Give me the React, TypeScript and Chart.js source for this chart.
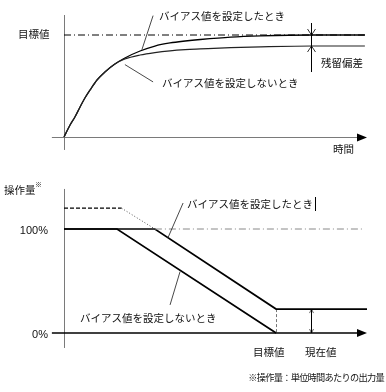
import React, { useEffect, useRef } from "react";
import { Chart, registerables } from "chart.js";

Chart.register(...registerables);

const JP = '"Noto Sans CJK JP", "Noto Sans", sans-serif';
const LAT = '"Liberation Sans", Arial, sans-serif';
const JP_FONT = `10.5px ${JP}`;

// ---------- top chart: response over time (target = 1) ----------
const timeX = [0, 2, 3.6, 5.3, 6.9, 8.6, 10.9, 13.5, 16.8, 20.1, 25.1, 30, 35, 40, 45, 55, 65, 82, 99.3];
const responseWithBias = [0, 0.118, 0.196, 0.294, 0.382, 0.461, 0.559, 0.637, 0.716, 0.775, 0.843, 0.892, 0.922, 0.941, 0.956, 0.98, 0.992, 1.0, 1.0];
const responseWithoutBias = [0, 0.118, 0.196, 0.294, 0.382, 0.461, 0.559, 0.637, 0.716, 0.765, 0.804, 0.828, 0.845, 0.856, 0.863, 0.876, 0.884, 0.892, 0.892];
const targetLineX = [0, 99.3];
const targetLevel = 1;
const settledWithoutBias = 0.892;
const residualX = 81.8;

// ---------- bottom chart: manipulated output (%) ----------
const outWithBiasX = [0, 30, 70, 100];
const outWithBiasY = [100, 100, 23, 23];
const outWithoutBiasX = [0, 17.5, 70];
const outWithoutBiasY = [100, 100, 0];
const outIdealX = [0, 19];
const outIdealY = [120, 120];
const outIdealSlopeX = [19, 30];
const outIdealSlopeY = [120, 100];
const limitX = [30, 98.3];
const limitY = [100, 100];
const targetReachX = 70;
const currentX = 81.8;
const currentLevel = 23;
const tickValues = [100, 0];
const tickLabels = ["100%", "0%"];

const zip = (xs: number[], ys: number[]) => xs.map((x, i) => ({ x, y: ys[i] }));

const crisp = (v: number) => Math.round(v - 0.5) + 0.5;

function seg(ctx: CanvasRenderingContext2D, x1: number, y1: number, x2: number, y2: number) {
  ctx.beginPath();
  ctx.moveTo(x1, y1);
  ctx.lineTo(x2, y2);
  ctx.stroke();
}

function text(
  ctx: CanvasRenderingContext2D,
  s: string,
  x: number,
  y: number,
  align: CanvasTextAlign = "left",
  font = JP_FONT,
  spacing = "0px"
) {
  ctx.font = font;
  (ctx as any).letterSpacing = spacing;
  ctx.fillStyle = "#111";
  ctx.textAlign = align;
  ctx.textBaseline = "middle";
  ctx.fillText(s, x, y);
  (ctx as any).letterSpacing = "0px";
}

function arrowRight(ctx: CanvasRenderingContext2D, tipX: number, y: number) {
  ctx.fillStyle = "#000";
  ctx.beginPath();
  ctx.moveTo(tipX, y);
  ctx.lineTo(tipX - 10, y - 4);
  ctx.lineTo(tipX - 10, y + 4);
  ctx.closePath();
  ctx.fill();
}

const topDecor = {
  id: "topDecor",
  beforeDatasetsDraw(chart: any) {
    const { ctx, scales } = chart;
    const X = (v: number) => scales.x.getPixelForValue(v);
    const Y = (v: number) => scales.y.getPixelForValue(v);
    ctx.save();
    ctx.strokeStyle = "#7a7a7a";
    ctx.lineWidth = 1;
    seg(ctx, crisp(X(0)), Y(1.196), crisp(X(0)), Y(-0.127));
    seg(ctx, X(-4), crisp(Y(0)), X(97), crisp(Y(0)));
    ctx.restore();
  },
  afterDatasetsDraw(chart: any) {
    const { ctx, scales } = chart;
    const X = (v: number) => scales.x.getPixelForValue(v);
    const Y = (v: number) => scales.y.getPixelForValue(v);
    ctx.save();
    arrowRight(ctx, X(100), crisp(Y(0)));

    // residual deviation marker
    const rx = crisp(X(residualX));
    ctx.strokeStyle = "#000";
    ctx.lineWidth = 1;
    seg(ctx, rx, Y(targetLevel) - 12, rx, Y(settledWithoutBias) + 26);
    ctx.lineWidth = 0.8;
    const yt = Y(targetLevel);
    const yb = Y(settledWithoutBias);
    seg(ctx, rx - 4, yt - 6, rx, yt);
    seg(ctx, rx + 4, yt - 6, rx, yt);
    seg(ctx, rx - 4, yb + 6, rx, yb);
    seg(ctx, rx + 4, yb + 6, rx, yb);

    // leader lines
    ctx.strokeStyle = "#333";
    ctx.lineWidth = 0.9;
    seg(ctx, X(29.4), Y(1.19), X(25.7), Y(0.855));
    seg(ctx, X(20.1), Y(0.71), X(29.4), Y(0.54));

    // labels
    text(ctx, "目標値", 18, Y(targetLevel) - 1);
    text(ctx, "バイアス値を設定したとき", 159, 16);
    text(ctx, "バイアス値を設定しないとき", 162, 83);
    text(ctx, "残留偏差", 321, 63);
    text(ctx, "時間", 333, 149);
    ctx.restore();
  },
};

const bottomDecor = {
  id: "bottomDecor",
  beforeDatasetsDraw(chart: any) {
    const { ctx, scales } = chart;
    const X = (v: number) => scales.x.getPixelForValue(v);
    const Y = (v: number) => scales.y.getPixelForValue(v);
    ctx.save();
    ctx.strokeStyle = "#7a7a7a";
    ctx.lineWidth = 1;
    seg(ctx, crisp(X(0)), Y(138.5), crisp(X(0)), Y(-14.4));
    ctx.strokeStyle = "#000";
    ctx.lineWidth = 1.5;
    seg(ctx, X(-4), Y(0), X(97), Y(0));
    // dashed vertical at target reach
    ctx.strokeStyle = "#777";
    ctx.lineWidth = 1;
    ctx.setLineDash([3, 2]);
    seg(ctx, crisp(X(targetReachX)), Y(currentLevel), crisp(X(targetReachX)), Y(0));
    ctx.setLineDash([]);
    ctx.restore();
  },
  afterDatasetsDraw(chart: any) {
    const { ctx, scales } = chart;
    const X = (v: number) => scales.x.getPixelForValue(v);
    const Y = (v: number) => scales.y.getPixelForValue(v);
    ctx.save();
    arrowRight(ctx, X(100), Y(0));

    // current value marker
    const cx = crisp(X(currentX));
    ctx.strokeStyle = "#000";
    ctx.lineWidth = 1;
    seg(ctx, cx, Y(currentLevel), cx, Y(0));
    ctx.lineWidth = 0.6;
    const yt = Y(currentLevel);
    const yb = Y(0);
    seg(ctx, cx - 2, yt + 4, cx, yt);
    seg(ctx, cx + 2, yt + 4, cx, yt);
    seg(ctx, cx - 2, yb - 4, cx, yb);
    seg(ctx, cx + 2, yb - 4, cx, yb);

    // leader lines
    ctx.strokeStyle = "#333";
    ctx.lineWidth = 0.9;
    seg(ctx, X(39.3), Y(125), X(34.3), Y(91.5));
    seg(ctx, X(38.3), Y(59), X(35), Y(27));

    // tick labels
    tickValues.forEach((v, i) => text(ctx, tickLabels[i], 48, Y(v) + 2, "right", `11px ${LAT}`));

    // labels
    text(ctx, "操作量", 4, 20);
    text(ctx, "※", 35, 14, "left", `7px ${JP}`);
    text(ctx, "バイアス値を設定したとき", 187, 34);
    ctx.strokeStyle = "#000";
    ctx.lineWidth = 1;
    seg(ctx, 315.5, 27, 315.5, 41);
    text(ctx, "バイアス値を設定しないとき", 80, 148);
    text(ctx, "目標値", 253, 182);
    text(ctx, "現在値", 305, 182);
    text(ctx, "※操作量：単位時間あたりの出力量", 384, 208, "right", `9.2px ${JP}`, "-0.7px");
    ctx.restore();
  },
};

const baseOptions = (padding: any, ymin: number, ymax: number) => ({
  responsive: false,
  animation: false as const,
  events: [] as any[],
  layout: { padding },
  scales: {
    x: { type: "linear" as const, min: 0, max: 100, display: false },
    y: { type: "linear" as const, min: ymin, max: ymax, display: false },
  },
  plugins: { legend: { display: false }, tooltip: { enabled: false } },
  elements: { point: { radius: 0 } },
});

export default function App() {
  const topRef = useRef<HTMLCanvasElement>(null);
  const botRef = useRef<HTMLCanvasElement>(null);

  useEffect(() => {
    const top = new Chart(topRef.current!, {
      type: "line",
      data: {
        datasets: [
          {
            data: zip(targetLineX, targetLineX.map(() => targetLevel)),
            borderColor: "#000",
            borderWidth: 1,
            borderDash: [7, 3, 1, 3],
            pointRadius: 0,
            clip: false,
          },
          {
            data: zip(timeX, responseWithoutBias),
            borderColor: "#222",
            borderWidth: 1.2,
            pointRadius: 0,
            cubicInterpolationMode: "monotone",
            clip: false,
          },
          {
            data: zip(timeX, responseWithBias),
            borderColor: "#000",
            borderWidth: 1.3,
            pointRadius: 0,
            cubicInterpolationMode: "monotone",
            clip: false,
          },
        ],
      } as any,
      options: baseOptions({ left: 64, right: 19, top: 35, bottom: 33 }, 0, 1) as any,
      plugins: [topDecor],
    });

    const bottom = new Chart(botRef.current!, {
      type: "line",
      data: {
        datasets: [
          {
            data: zip(limitX, limitY),
            borderColor: "#888",
            borderWidth: 1,
            borderDash: [7, 3, 1, 3],
            pointRadius: 0,
            clip: false,
          },
          {
            data: zip(outIdealX, outIdealY),
            borderColor: "#000",
            borderWidth: 1.2,
            borderDash: [4, 2],
            pointRadius: 0,
            clip: false,
          },
          {
            data: zip(outIdealSlopeX, outIdealSlopeY),
            borderColor: "#555",
            borderWidth: 1,
            borderDash: [1, 2],
            pointRadius: 0,
            clip: false,
          },
          {
            data: zip(outWithoutBiasX, outWithoutBiasY),
            borderColor: "#000",
            borderWidth: 1.7,
            pointRadius: 0,
            clip: false,
          },
          {
            data: zip(outWithBiasX, outWithBiasY),
            borderColor: "#000",
            borderWidth: 1.7,
            pointRadius: 0,
            clip: false,
          },
        ],
      } as any,
      options: baseOptions({ left: 64, right: 19, top: 59, bottom: 59 }, 0, 100) as any,
      plugins: [bottomDecor],
    });

    return () => {
      top.destroy();
      bottom.destroy();
    };
  }, []);

  return (
    <div style={{ position: "absolute", left: 0, top: 0, width: 386, height: 392, background: "#fff" }}>
      <canvas ref={topRef} width={386} height={170} style={{ position: "absolute", left: 0, top: 0, display: "block" }} />
      <canvas ref={botRef} width={386} height={222} style={{ position: "absolute", left: 0, top: 170, display: "block" }} />
    </div>
  );
}
